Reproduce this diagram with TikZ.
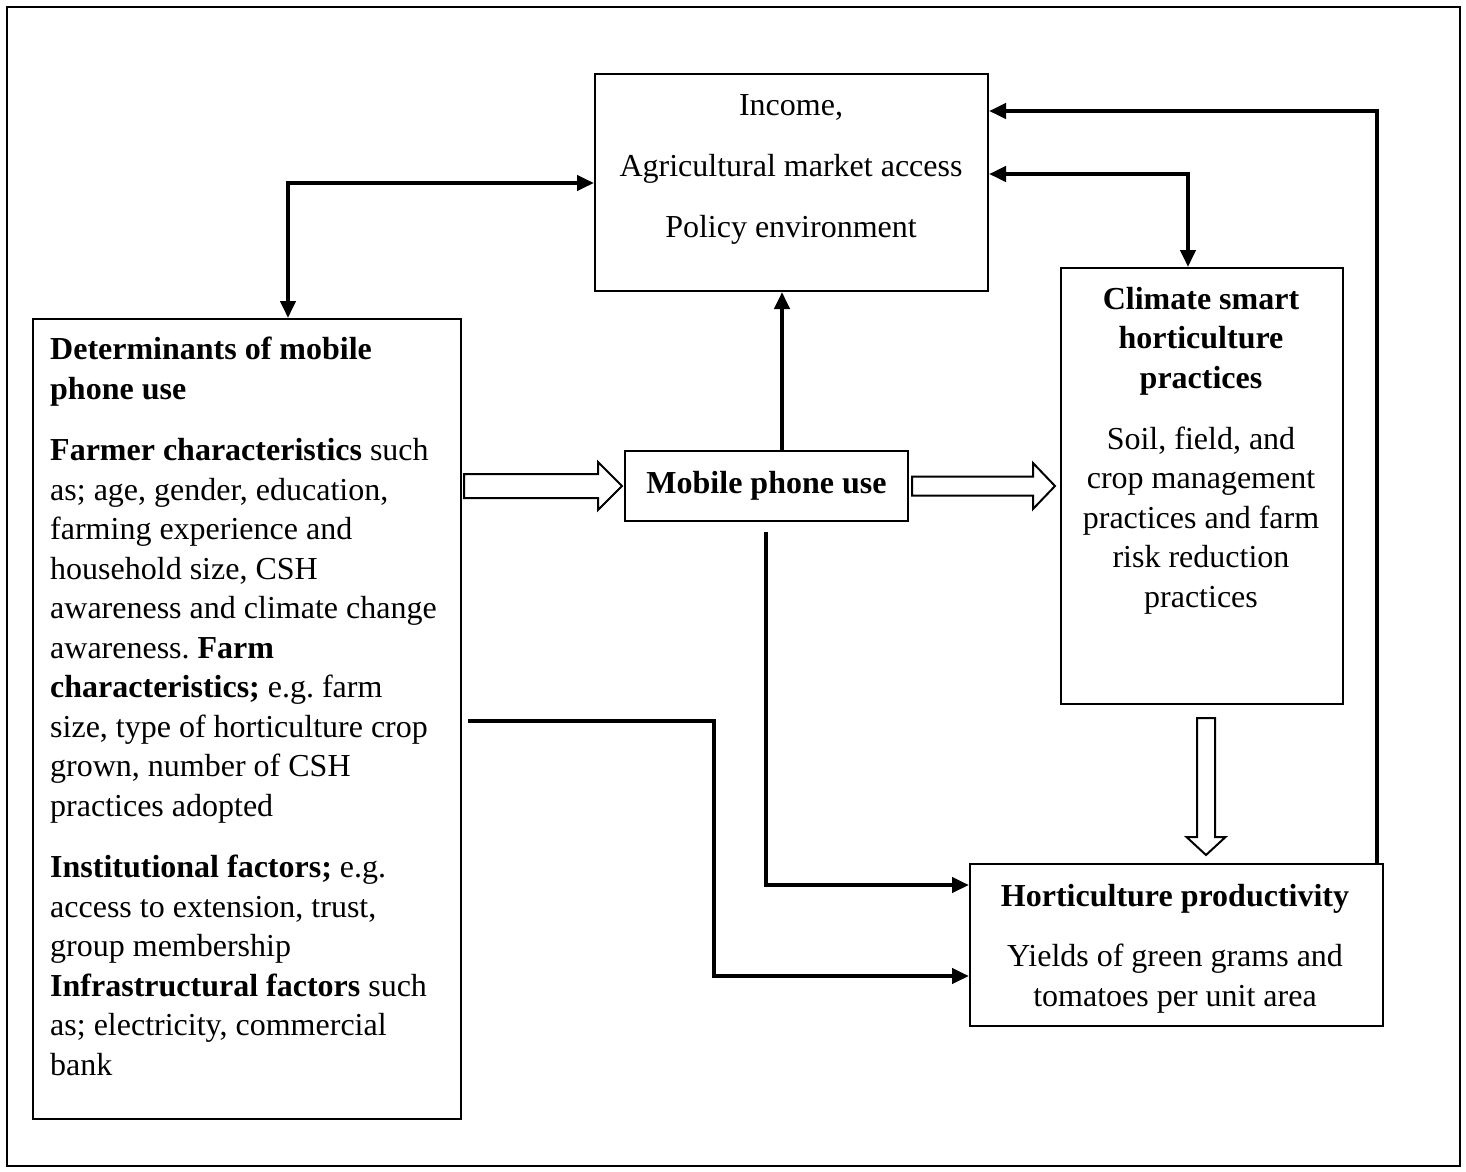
\documentclass[tikz,border=0pt]{standalone}
\usepackage{fontspec}
\setmainfont{Liberation Serif}
\usetikzlibrary{arrows.meta,calc}
\frenchspacing
\begin{document}
\begin{tikzpicture}[x=1pt,y=-1pt,
  box/.style={draw, line width=2pt, inner sep=0pt},
  conn/.style={line width=4pt, line join=miter, -{Triangle[length=17pt,width=15pt]}},
  dconn/.style={line width=4pt, line join=miter, {Triangle[length=17pt,width=15pt]}-{Triangle[length=17pt,width=15pt]}},
  hollow/.style={draw, line width=2pt, fill=white, line join=miter},
  txt/.style={inner sep=0pt, font=\fontsize{32}{39.5}\selectfont}]
\useasboundingbox (0,0) rectangle (1466,1171);
\draw[line width=2.5pt] (7,7) rectangle (1460,1166);

% boxes
\node[box, minimum width=393, minimum height=217, anchor=north west] (tb) at (594,73) {};
\node[box, minimum width=428, minimum height=800, anchor=north west] (lb) at (32,318) {};
\node[box, minimum width=283, minimum height=70, anchor=north west, font=\fontsize{32}{39.5}\selectfont\bfseries] (mp) at (624,450) {Mobile phone use};
\node[box, minimum width=282, minimum height=436, anchor=north west] (cl) at (1060,267) {};
\node[box, minimum width=413, minimum height=162, anchor=north west] (hp) at (969,863) {};

% texts
\node[txt, align=center, anchor=north, font=\fontsize{32}{61}\selectfont] (tbt) at (791,94)
  {Income,\\Agricultural market access\\Policy environment};
\node[txt, align=left, anchor=north west] (lbt) at (50,337)
  {\textbf{Determinants of mobile}\\\textbf{phone use}\\[22pt]
   \textbf{Farmer characteristics} such\\
   as; age, gender, education,\\
   farming experience and\\
   household size, CSH\\
   awareness and climate change\\
   awareness. \textbf{Farm}\\
   \textbf{characteristics;} e.g. farm\\
   size, type of horticulture crop\\
   grown, number of CSH\\
   practices adopted\\[22pt]
   \textbf{Institutional factors;} e.g.\\
   access to extension, trust,\\
   group membership\\
   \textbf{Infrastructural factors} such\\
   as; electricity, commercial\\
   bank};
\node[txt, align=center, anchor=north] (clt) at (1201,287)
  {\textbf{Climate smart}\\\textbf{horticulture}\\\textbf{practices}\\[21.5pt]
   Soil, field, and\\crop management\\practices and farm\\risk reduction\\practices};
\node[txt, align=center, anchor=north] (hpt) at (1175,884)
  {\textbf{Horticulture productivity}\\[21pt]Yields of green grams and\\tomatoes per unit area};

% helper coordinates
\coordinate (k1) at (288,183);
\coordinate (k2) at (782,380);
\coordinate (k3) at (1188,174);
\coordinate (k4) at (1377,111);
\coordinate (k5) at (766,885);
\coordinate (k6) at (714,721);
\coordinate (k7) at (714,976);

% connectors
\draw[dconn] (k1 -| tb.west) -- (k1) -- (k1 |- lb.north);
\draw[conn] (mp.north -| k2) -- (tb.south -| k2);
\draw[dconn] (k3 -| tb.east) -- (k3) -- (k3 |- cl.north);
\draw[conn] (k4 |- hp.north) -- (k4) -- (k4 -| tb.east);
\draw[conn, shorten <=10pt] (mp.south -| k5) -- (k5) -- (k5 -| hp.west);
\draw[conn, shorten <=6pt] (lb.east |- k6) -- (k6) -- (k7) -- (k7 -| hp.west);

% hollow arrows
\draw[hollow] ($(lb.east|-mp.west)+(2,-12)$) -- ($(mp.west)+(-26,-12)$) -- ($(mp.west)+(-26,-24)$)
  -- ($(mp.west)+(-2,0)$) -- ($(mp.west)+(-26,24)$) -- ($(mp.west)+(-26,12)$)
  -- ($(lb.east|-mp.west)+(2,12)$) -- cycle;
\draw[hollow] ($(mp.east)+(3,-9.5)$) -- ($(cl.west|-mp.east)+(-27,-9.5)$) -- ($(cl.west|-mp.east)+(-27,-23)$)
  -- ($(cl.west|-mp.east)+(-5,0)$) -- ($(cl.west|-mp.east)+(-27,23)$) -- ($(cl.west|-mp.east)+(-27,9.5)$)
  -- ($(mp.east)+(3,9.5)$) -- cycle;
\coordinate (v1) at ($(cl.south)+(4,13)$);
\coordinate (v2) at ($(hp.north -| v1)+(0,-8)$);
\draw[hollow] ($(v1)+(-9,0)$) -- ($(v2)+(-9,-18)$) -- ($(v2)+(-19.5,-18)$) -- (v2)
  -- ($(v2)+(19.5,-18)$) -- ($(v2)+(9,-18)$) -- ($(v1)+(9,0)$) -- cycle;
\end{tikzpicture}
\end{document}
